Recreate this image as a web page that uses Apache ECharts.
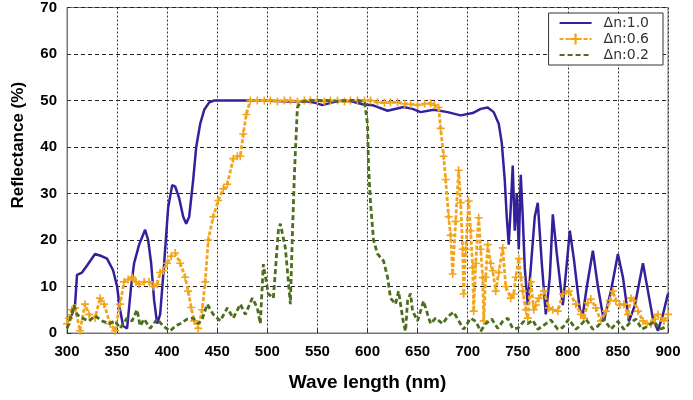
<!DOCTYPE html>
<html>
<head>
<meta charset="utf-8">
<script src="https://cdn.jsdelivr.net/npm/echarts@6/dist/echarts.min.js"></script>
<style>
html,body{margin:0;padding:0;background:#fff;}
#chart{width:693px;height:400px;}
</style>
</head>
<body>
<div id="chart"></div>
<script>
// Wavelength (nm) / Reflectance (%) pairs
var seriesNames = ['\u0394n:1.0', '\u0394n:0.6', '\u0394n:0.2'];
var xTicks = {min: 300, max: 900, step: 50};
var yTicks = {min: 0, max: 70, step: 10};

var dn10 = [[300,3],[305,4],[308,6],[310,12.5],[315,13],[320,14.5],[328,17],[335,16.5],[340,16],[346,13.5],[350,10],[353,5],[356,1.5],[360,1],[364,10],[367,15],[372,19],[378,22.2],[381,20],[384,15],[387,7],[390,2],[393,4],[397,15],[401,27],[405,31.8],[408,31.5],[412,29],[416,25],[419,23.5],[422,25],[426,33],[429,40],[433,45],[437,48],[442,49.6],[447,50],[460,50],[480,50],[500,50],[520,49.8],[540,49.8],[548,49.5],[555,49],[565,49.6],[575,50],[585,49.8],[595,49.2],[605,49],[620,47.8],[636,48.6],[645,48.2],[653,47.5],[666,48],[680,47.5],[693,46.8],[705,47.3],[713,48.2],[720,48.5],[726,47.5],[731,45],[734,41],[737,33],[739,25],[741,19],[743,27],[745,36],[747,22],[749,30],[751,18],[753,34],[755,25],[757,14],[760,6],[763,14],[767,25],[770,28],[774,15],[778,4],[782,12],[785,25.5],[789,17],[795,6],[799,15],[802,22],[806,16],[812,5],[815,4],[819,10],[825,17.7],[830,10],[836,2.6],[843,9],[850,17],[855,12],[861,2.5],[867,6],[875,15],[880,9],[885,3],[890,0.5],[895,4],[900,8.5]];

var dn06 = [[300,2],[302,3.2],[305,5],[308,5.4],[313,0.5],[318,6.2],[322,4],[328,3.2],[333,7.5],[337,6.2],[343,2],[348,0.5],[353,6.2],[357,11],[361,11.5],[365,12],[369,11],[372,10.5],[377,11],[382,11],[386,10],[390,10.5],[393,13],[396,13.4],[400,15],[404,16.5],[408,17.2],[413,15],[418,12],[421,9],[424,5.5],[427,2.6],[431,1],[435,5],[438,11],[441,20],[446,25],[451,28.5],[456,31],[460,32],[466,37.5],[470,38],[473,38],[476,42.8],[479,47],[483,50],[490,50],[497,50],[503,50],[510,49.8],[517,50],[523,50],[530,49.8],[537,50],[543,50],[550,50],[557,49.8],[563,50],[570,50],[577,49.8],[583,50],[590,50],[597,50],[603,50],[610,49.6],[617,49.5],[623,49.6],[630,49.6],[637,49.3],[643,49.2],[650,49],[657,49.3],[663,49.4],[667,49],[671,48.5],[673,44],[676,38],[678,33],[681,25],[683,21],[685,12.7],[688,24],[691,35],[693,28],[695,18],[696,8.4],[698,18],[701,28.4],[703,22],[705,14],[706,4.7],[708,15],[711,24.8],[713,18],[715,11.9],[716,2.6],[718,12],[720,19],[723,15],[725,13.4],[728,9],[731,13],[735,18.3],[738,10],[743,7.5],[746,8.4],[748,12],[751,16],[753,12],[755,9],[758,5],[760,3.2],[763,11],[766,5],[768,6],[771,7.5],[776,9],[781,5.4],[785,5],[790,4.7],[795,8.4],[801,9],[808,6.2],[813,4],[816,3.2],[820,6.5],[823,7.3],[828,5.4],[833,2.6],[838,4.7],[842,7],[845,9],[848,6.9],[852,6],[856,6.2],[860,4],[863,7.5],[866,7],[870,4.7],[875,2.6],[879,2],[883,2],[887,3],[890,4],[896,2.6],[900,4]];

var dn02 = [[300,1],[302,2],[307,6],[310,4],[315,3.2],[322,2.6],[328,3.7],[335,2.6],[342,2],[348,2.6],[353,1],[360,3.2],[365,2.6],[370,5],[373,1.5],[377,3],[383,1],[390,3],[396,1.5],[403,0.4],[408,1.5],[413,2],[420,3],[426,3.2],[431,2],[435,3],[440,6.2],[446,4],[453,2.6],[460,5.4],[466,3.2],[473,6.2],[478,4],[485,7.5],[490,5.4],[493,2],[496,14.8],[501,8.4],[506,7.5],[511,22],[513,23.5],[518,18.3],[523,6.2],[525,21],[527,34],[530,48.5],[533,49.6],[540,50],[550,50],[560,50],[570,49.8],[580,50],[590,50],[597,49.8],[600,45],[601,36],[603,28],[606,20],[610,17],[616,15.5],[620,12],[623,7.5],[628,6.2],[631,9],[636,2],[638,0.4],[640,6.9],[643,8.5],[645,4.7],[650,2.6],[656,6.9],[660,4],[663,2],[668,3.2],[675,2],[680,3.5],[686,4.5],[690,3],[696,0.8],[703,3.2],[708,2.5],[713,0.4],[718,2],[724,3],[730,1],[735,2.5],[740,3.2],[745,1],[750,1],[756,2.5],[760,2],[765,2.8],[770,0.8],[775,1.5],[783,2.8],[790,0.8],[795,1.2],[801,3],[808,0.8],[812,1.5],[818,3],[825,0.8],[830,1.5],[836,3],[843,0.8],[850,2.5],[856,0.8],[861,2],[868,3],[874,0.8],[880,1.5],[886,2.5],[892,0.8],[900,1.5]];

var tickFont = "'Liberation Sans Narrow','Liberation Sans',Arial,sans-serif";
var chart = echarts.init(document.getElementById('chart'), null, {renderer: 'canvas'});
var plus = 'path://M4,0H6V4H10V6H6V10H4V6H0V4H4Z';

chart.setOption({
  animation: false,
  backgroundColor: '#fff',
  grid: {left: 67, right: 25, top: 7, bottom: 67, show: true, borderColor: '#777', borderWidth: 1, containLabel: false},
  legend: {
    orient: 'vertical', right: 30, top: 13,
    backgroundColor: '#fff', borderColor: '#333', borderWidth: 1,
    padding: [3, 14, 3, 10], itemGap: 2, itemWidth: 32, itemHeight: 14,
    textStyle: {fontFamily: "'DejaVu Sans',sans-serif", fontSize: 14, color: '#333', padding: [0, 0, 0, 7]},
    data: [
      {name: seriesNames[0], itemStyle: {opacity: 0}},
      {name: seriesNames[1]},
      {name: seriesNames[2], itemStyle: {opacity: 0}}
    ]
  },
  xAxis: {
    type: 'value', min: xTicks.min, max: xTicks.max, interval: xTicks.step,
    name: 'Wave length (nm)', nameLocation: 'middle', nameGap: 40,
    nameTextStyle: {fontFamily: tickFont, fontWeight: 'bold', fontSize: 19, color: '#000'},
    axisLine: {show: true, lineStyle: {color: '#777'}},
    axisTick: {show: true, inside: true, length: 4, lineStyle: {color: '#333'}},
    axisLabel: {fontFamily: tickFont, fontWeight: 'bold', fontSize: 15, color: '#000', margin: 11},
    splitLine: {show: true, lineStyle: {color: '#333', type: [2, 2], width: 1}}
  },
  yAxis: {
    type: 'value', min: yTicks.min, max: yTicks.max, interval: yTicks.step,
    name: 'Reflectance (%)', nameLocation: 'middle', nameGap: 40, nameRotate: 90,
    nameTextStyle: {fontFamily: "'Liberation Sans',Arial,sans-serif", fontWeight: 'bold', fontSize: 17, color: '#000', padding: [0, 0, 0, 50]},
    axisLine: {show: true, lineStyle: {color: '#777'}},
    axisTick: {show: true, inside: true, length: 4, lineStyle: {color: '#333'}},
    axisLabel: {fontFamily: tickFont, fontWeight: 'bold', fontSize: 15, color: '#000', margin: 10},
    splitLine: {show: true, lineStyle: {color: '#222', type: [4, 3], width: 1}}
  },
  series: [
    {name: seriesNames[0], type: 'line', data: dn10, showSymbol: false, symbol: 'none',
     lineStyle: {color: '#35209c', width: 2.5}, itemStyle: {color: '#35209c'}, z: 3},
    {name: seriesNames[1], type: 'line', data: dn06, symbol: plus, symbolSize: 8, showSymbol: true,
     lineStyle: {color: '#f2a51c', width: 2.8, type: [4, 2]}, itemStyle: {color: '#f2a51c'}, z: 4},
    {name: seriesNames[2], type: 'line', data: dn02, showSymbol: false, symbol: 'none',
     lineStyle: {color: '#4c6e1e', width: 2.8, type: [5, 3]}, itemStyle: {color: '#4c6e1e'}, z: 5}
  ]
});
</script>
</body>
</html>
